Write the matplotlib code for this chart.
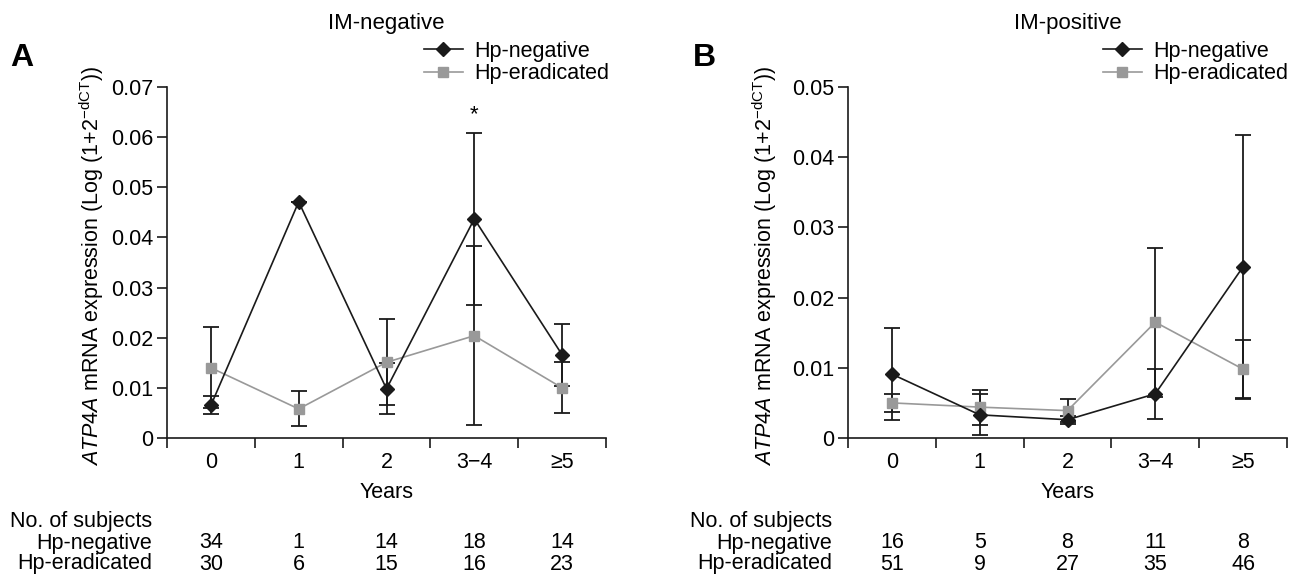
import matplotlib
matplotlib.use("Agg")
import matplotlib.pyplot as plt
from matplotlib.lines import Line2D
import matplotlib.transforms as mtransforms

plt.rcParams['font.family'] = ['Liberation Sans', 'DejaVu Sans']
plt.rcParams['mathtext.fontset'] = 'custom'
plt.rcParams['mathtext.rm'] = 'Liberation Sans'
plt.rcParams['mathtext.it'] = 'Liberation Sans:italic'
plt.rcParams['mathtext.bf'] = 'Liberation Sans:bold'

# ---------------- data ----------------
years = ['0', '1', '2', '3\u22124', '\u22655']
series_names = ['Hp-negative', 'Hp-eradicated']

a_neg = [0.0065, 0.0471, 0.0098, 0.0437, 0.0166]
a_neg_err = [0.0018, 0.0, 0.0051, 0.0171, 0.0062]
a_era = [0.0140, 0.0058, 0.0151, 0.0204, 0.0100]
a_era_err = [0.0081, 0.0035, 0.0086, 0.0178, 0.0051]

b_neg = [0.0091, 0.0033, 0.0026, 0.0063, 0.0244]
b_neg_err = [0.0066, 0.0029, 0.0006, 0.0036, 0.0188]
b_era = [0.0050, 0.0044, 0.0039, 0.0165, 0.0098]
b_era_err = [0.0013, 0.0025, 0.0016, 0.0106, 0.0041]

a_n_neg = [34, 1, 14, 18, 14]
a_n_era = [30, 6, 15, 16, 23]
b_n_neg = [16, 5, 8, 11, 8]
b_n_era = [51, 9, 27, 35, 46]

a_yticks = [0, 0.01, 0.02, 0.03, 0.04, 0.05, 0.06, 0.07]
a_ylabels = ['0', '0.01', '0.02', '0.03', '0.04', '0.05', '0.06', '0.07']
b_yticks = [0, 0.01, 0.02, 0.03, 0.04, 0.05]
b_ylabels = ['0', '0.01', '0.02', '0.03', '0.04', '0.05']

a_star_idx = 3
a_star_y = 0.0645

# ---------------- figure ----------------
W, H = 1292, 577
fig = plt.figure(figsize=(W / 100, H / 100), dpi=100)

BLACK = '#1a1a1a'
GRAY = '#999999'
FS = 15.5

def px(x, y):
    return x / W, 1 - y / H

def make_panel(left_px, right_px, title, letter, letter_x, neg, neg_err, era, era_err,
               yticks, ylabels, n_neg, n_era, leg_x, ylab_x, tbl_right):
    x0, y0 = px(left_px, 438)
    x1, y1 = px(right_px, 87)
    ax = fig.add_axes([x0, y0, x1 - x0, y1 - y0])
    xs = [i + 0.5 for i in range(len(years))]
    ax.errorbar(xs, era, yerr=era_err, fmt='none', ecolor=BLACK, elinewidth=1.3,
                capsize=6, capthick=1.3, zorder=2)
    ax.errorbar(xs, neg, yerr=neg_err, fmt='none', ecolor=BLACK, elinewidth=1.3,
                capsize=6, capthick=1.3, zorder=2)
    ax.plot(xs, era, color=GRAY, lw=1.2, marker='s', ms=7, mfc=GRAY, mec=GRAY, zorder=3)
    ax.plot(xs, neg, color=BLACK, lw=1.2, marker='D', ms=7.5, mfc=BLACK, mec=BLACK, zorder=4)
    ax.set_xlim(0, len(years))
    ax.set_ylim(yticks[0], yticks[-1])
    for s in ['top', 'right']:
        ax.spines[s].set_visible(False)
    for s in ['left', 'bottom']:
        ax.spines[s].set_linewidth(1.2)
        ax.spines[s].set_color(BLACK)
    ax.set_yticks(yticks)
    ax.set_yticklabels(ylabels)
    ax.set_xticks(range(len(years) + 1))
    ax.set_xticklabels([''] * (len(years) + 1))
    ax.set_xticks(xs, minor=True)
    ax.set_xticklabels(years, minor=True)
    ax.tick_params(axis='both', which='major', direction='out', length=7, width=1.2,
                   color=BLACK, labelsize=FS, pad=3)
    ax.tick_params(axis='x', which='minor', length=0, labelsize=FS, pad=10)
    # y label
    ax.text(ylab_x / W, 1 - 266 / H,
            r'$\mathit{ATP4A}$ mRNA expression (Log (1+2$^{\mathrm{-dCT}}$))',
            transform=fig.transFigure, rotation=90, ha='center', va='center', fontsize=FS)
    # x label
    ax.text(0.5, 1 - 493 / H, 'Years',
            transform=mtransforms.blended_transform_factory(ax.transAxes, fig.transFigure),
            ha='center', va='center', fontsize=FS)
    # title
    fig.text((left_px + right_px) / 2 / W, 1 - 23 / H, title, ha='center', va='center', fontsize=16)
    # panel letter
    fig.text(letter_x / W, 1 - 58 / H, letter, ha='left', va='center', fontsize=23, fontweight='bold')
    # legend
    handles = [Line2D([], [], color=BLACK, lw=1.2, marker='D', ms=7.5, mfc=BLACK, mec=BLACK),
               Line2D([], [], color=GRAY, lw=1.2, marker='s', ms=7, mfc=GRAY, mec=GRAY)]
    fig.legend(handles, series_names, loc='upper left', bbox_to_anchor=(leg_x / W, 1 - 41 / H),
               frameon=False, fontsize=FS, handlelength=1.8, handletextpad=0.55,
               labelspacing=0.05, borderpad=0, borderaxespad=0)
    # table
    trans = mtransforms.blended_transform_factory(ax.transData, fig.transFigure)
    fig.text(tbl_right / W, 1 - 521 / H, 'No. of subjects', ha='right', va='center', fontsize=FS)
    fig.text(tbl_right / W, 1 - 543 / H, series_names[0], ha='right', va='center', fontsize=FS)
    fig.text(tbl_right / W, 1 - 564 / H, series_names[1], ha='right', va='center', fontsize=FS)
    for x, a, b in zip(xs, n_neg, n_era):
        ax.text(x, 1 - 543 / H, str(a), transform=trans, ha='center', va='center', fontsize=FS)
        ax.text(x, 1 - 564 / H, str(b), transform=trans, ha='center', va='center', fontsize=FS)
    return ax

axA = make_panel(167, 606, 'IM-negative', 'A', 10, a_neg, a_neg_err, a_era, a_era_err,
                 a_yticks, a_ylabels, a_n_neg, a_n_era, 424, 92, 152)
axA.text(a_star_idx + 0.5, a_star_y, '*', ha='center', va='center', fontsize=16)

axB = make_panel(848, 1287, 'IM-positive', 'B', 693, b_neg, b_neg_err, b_era, b_era_err,
                 b_yticks, b_ylabels, b_n_neg, b_n_era, 1103, 765, 832)

fig.savefig('out.png', dpi=100)
